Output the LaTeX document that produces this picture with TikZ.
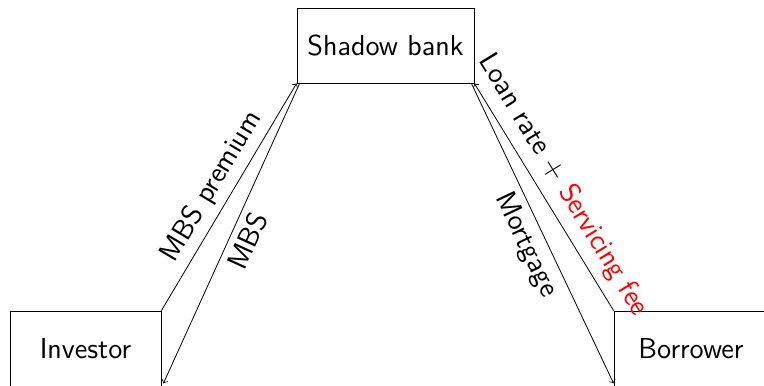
\documentclass[tikz,border=0pt]{standalone}
\begin{document}
\begin{tikzpicture}[x=0.5pt,y=-0.5pt,
  box/.style={draw, font=\sffamily\Large, inner sep=0pt},
  lbl/.style={font=\sffamily\Large, sloped, midway},
  flow/.style={->}]
\useasboundingbox (0,0) rectangle (764,385);
\clip (0,0) rectangle (764,385);
\node[box, minimum width=88.5pt, minimum height=37.5pt] (sb) at (385.5,45.5) {Shadow bank};
\node[box, minimum width=75.5pt, minimum height=37.5pt] (inv) at (85.5,348.5) {Investor};
\node[box, minimum width=77pt, minimum height=37.5pt] (bor) at (691,348.5) {Borrower};
\coordinate (sbL) at ([xshift=1.5pt]sb.south west);
\coordinate (sbR) at ([xshift=-1.5pt]sb.south east);
\draw[flow] (inv.north east) -- node[lbl, above] {MBS premium} (sb.south west);
\draw[flow] (sbL) -- node[lbl, below] {MBS} ([xshift=1pt,yshift=1.5pt]inv.south east);
\draw[flow] (bor.north west) -- node[lbl, above, yshift=1pt] {Loan rate + \textcolor{red}{Servicing fee}} (sb.south east);
\draw[flow] (sbR) -- node[lbl, below, pos=0.51] {Mortgage} ([yshift=1.5pt]bor.south west);
\end{tikzpicture}
\end{document}
